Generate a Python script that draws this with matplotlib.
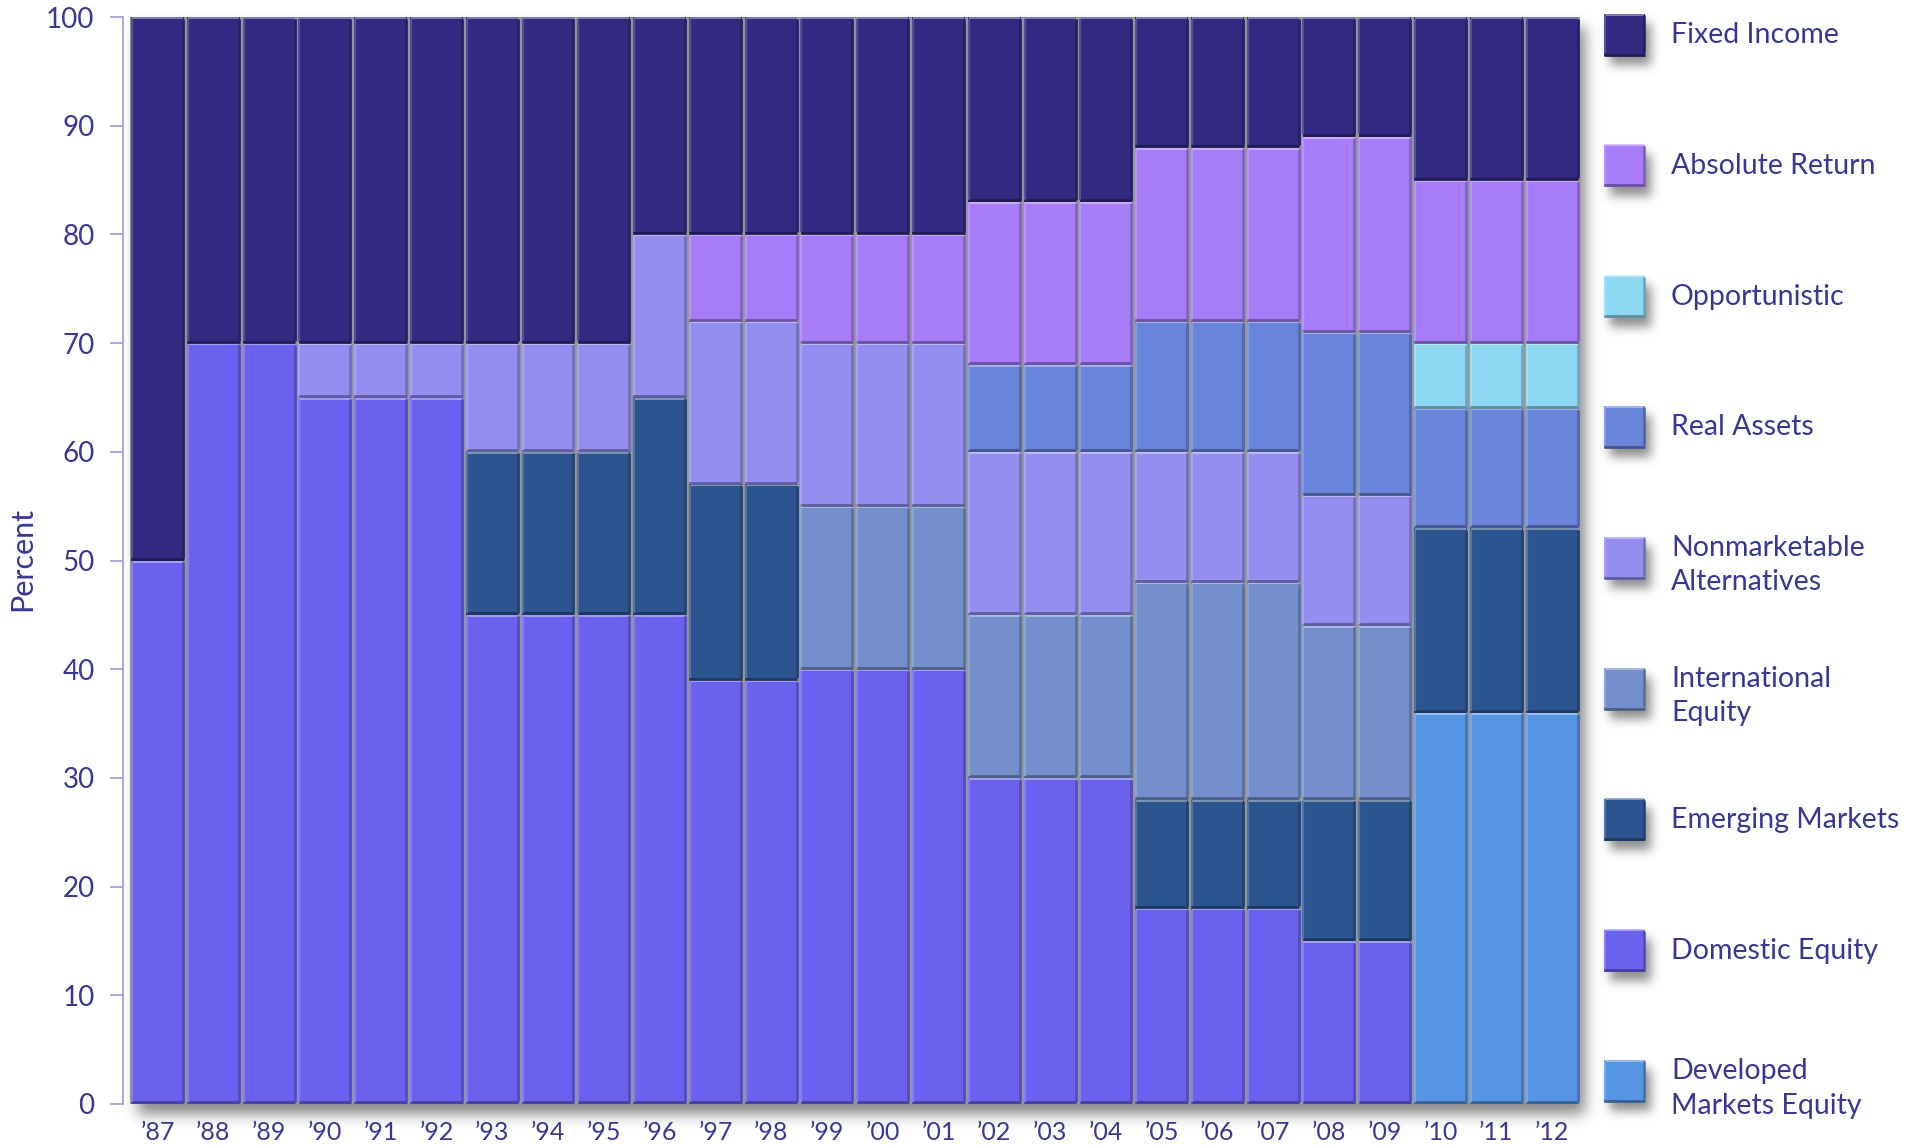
import numpy as np
import matplotlib.pyplot as plt
from matplotlib.patches import Rectangle
from matplotlib.colors import to_rgb

plt.rcParams['font.family'] = ['Lato', 'DejaVu Sans']

# Asset allocation, percent of portfolio, fiscal 1987-2012
years = ["’87", "’88", "’89", "’90", "’91", "’92", "’93", "’94", "’95", "’96",
         "’97", "’98", "’99", "’00", "’01", "’02", "’03", "’04", "’05", "’06",
         "’07", "’08", "’09", "’10", "’11", "’12"]

developed = [0, 0, 0, 0, 0, 0, 0, 0, 0, 0, 0, 0, 0, 0, 0, 0, 0, 0, 0, 0, 0, 0, 0, 36, 36, 36]
domestic = [50, 70, 70, 65, 65, 65, 45, 45, 45, 45, 39, 39, 40, 40, 40, 30, 30, 30, 18, 18, 18, 15, 15, 0, 0, 0]
emerging = [0, 0, 0, 0, 0, 0, 15, 15, 15, 20, 18, 18, 0, 0, 0, 0, 0, 0, 10, 10, 10, 13, 13, 17, 17, 17]
international = [0, 0, 0, 0, 0, 0, 0, 0, 0, 0, 0, 0, 15, 15, 15, 15, 15, 15, 20, 20, 20, 16, 16, 0, 0, 0]
nonmarketable = [0, 0, 0, 5, 5, 5, 10, 10, 10, 15, 15, 15, 15, 15, 15, 15, 15, 15, 12, 12, 12, 12, 12, 0, 0, 0]
real_assets = [0, 0, 0, 0, 0, 0, 0, 0, 0, 0, 0, 0, 0, 0, 0, 8, 8, 8, 12, 12, 12, 15, 15, 11, 11, 11]
opportunistic = [0, 0, 0, 0, 0, 0, 0, 0, 0, 0, 0, 0, 0, 0, 0, 0, 0, 0, 0, 0, 0, 0, 0, 6, 6, 6]
absolute_return = [0, 0, 0, 0, 0, 0, 0, 0, 0, 0, 8, 8, 10, 10, 10, 15, 15, 15, 16, 16, 16, 18, 18, 15, 15, 15]
fixed_income = [50, 30, 30, 30, 30, 30, 30, 30, 30, 20, 20, 20, 20, 20, 20, 17, 17, 17, 12, 12, 12, 11, 11, 15, 15, 15]

# stacked bottom to top
series = [
    ("Developed\nMarkets Equity", developed, "#5595e4"),
    ("Domestic Equity", domestic, "#6a62ee"),
    ("Emerging Markets", emerging, "#2c5590"),
    ("International\nEquity", international, "#7490cc"),
    ("Nonmarketable\nAlternatives", nonmarketable, "#948ef0"),
    ("Real Assets", real_assets, "#6885db"),
    ("Opportunistic", opportunistic, "#8fd8f3"),
    ("Absolute Return", absolute_return, "#a67cf9"),
    ("Fixed Income", fixed_income, "#312a80"),
]

TEXT = "#383894"
AXIS = "#9c9cd6"


def shade(color, f):
    c = np.array(to_rgb(color))
    if f > 0:
        return tuple(c + (1 - c) * f)
    return tuple(c * (1 + f))


def soft_shadow(w, h, pad, sigma, amax):
    """RGBA image of a gaussian-blurred gray box, w x h px plus padding."""
    a = np.zeros((h + 2 * pad, w + 2 * pad))
    a[pad:pad + h, pad:pad + w] = 1.0
    t = np.arange(-3 * sigma, 3 * sigma + 1)
    k = np.exp(-0.5 * (t / sigma) ** 2)
    k /= k.sum()
    a = np.apply_along_axis(lambda r: np.convolve(r, k, mode="same"), 1, a)
    a = np.apply_along_axis(lambda c: np.convolve(c, k, mode="same"), 0, a)
    img = np.zeros(a.shape + (4,))
    img[..., :3] = 0.33
    img[..., 3] = amax * a
    return img


W, H = 1915, 1146
fig = plt.figure(figsize=(W / 100, H / 100), dpi=100)
ax_px = (123, 17, 1580, 1104)  # left, top, right, bottom in pixels
ax = fig.add_axes([ax_px[0] / W, 1 - ax_px[3] / H,
                   (ax_px[2] - ax_px[0]) / W, (ax_px[3] - ax_px[1]) / H])

x = np.arange(len(years))
width = 0.94
x0, x1 = -0.62, 25.5
sx = (ax_px[2] - ax_px[0]) / (x1 - x0)   # px per category
sy = (ax_px[3] - ax_px[1]) / 100.0        # px per percent

# gray channel behind the columns
ax.bar(x, 100, width=1.0, color="#979797", linewidth=0, zorder=1)

# blurred drop shadow of the whole block of columns
left_edge, right_edge = x[0] - width / 2, x[-1] + width / 2
bw = int(round((right_edge - left_edge) * sx))
bh = int(round(100 * sy))
pad, dx, dy = 30, 7, 10
shadow = soft_shadow(bw, bh, pad, 7, 0.7)
ax.imshow(shadow, aspect="auto", zorder=0, clip_on=False, interpolation="bilinear",
          extent=(left_edge + (dx - pad) / sx, right_edge + (dx + pad) / sx,
                  (-dy - pad) / sy, 100 + (pad - dy) / sy))

bottom = np.zeros(len(years))
for label, vals, color in series:
    v = np.array(vals, dtype=float)
    m = v > 0
    ax.bar(x[m], v[m], bottom=bottom[m], width=width, color=color,
           linewidth=0, zorder=2)
    left = x[m] - width / 2
    right = x[m] + width / 2
    top = bottom[m] + v[m]
    # bevelled edges
    ax.hlines(bottom[m] + 0.14, left, right, color=shade(color, -0.35), lw=2.0, zorder=3)
    ax.hlines(top - 0.1, left + 0.01, right - 0.01, color=shade(color, 0.45), lw=1.2, zorder=3)
    ax.vlines(left + 0.012, bottom[m] + 0.2, top - 0.15, color=shade(color, 0.18), lw=1.6, zorder=3)
    ax.vlines(right - 0.014, bottom[m] + 0.2, top - 0.15, color=shade(color, -0.22), lw=2.0, zorder=3)
    bottom = bottom + v

ax.set_xlim(x0, x1)
ax.set_ylim(0, 100)
ax.set_xticks(x)
ax.set_xticklabels(years, fontsize=18, color=TEXT)
ax.set_yticks(np.arange(0, 101, 10))
ax.tick_params(axis="x", length=0, pad=12)
ax.tick_params(axis="y", length=9.5, width=1.2, color=AXIS, labelcolor=TEXT,
               labelsize=20, pad=11)
for s in ("top", "right", "bottom"):
    ax.spines[s].set_visible(False)
ax.spines["left"].set_color(AXIS)
ax.spines["left"].set_linewidth(1.2)
ax.patch.set_visible(False)

fig.text(22 / W, 1 - 559 / H, "Percent", rotation=90, fontsize=22, color=TEXT,
         ha="center", va="center")

# legend, top entry first
lax = fig.add_axes([0, 0, 1, 1])
lax.set_xlim(0, W)
lax.set_ylim(H, 0)
lax.axis("off")
lax.patch.set_visible(False)
sq, spad = 42, 18
sq_shadow = soft_shadow(sq - 1, sq, spad, 5, 0.65)
for i, (label, vals, color) in enumerate(series[::-1]):
    cy = 35 + i * 130.8
    sx0, sy0 = 1604, cy - sq / 2
    lax.imshow(sq_shadow, aspect="auto", interpolation="bilinear", zorder=0,
               extent=(sx0 + 6 - spad, sx0 + 6 + sq - 1 + spad,
                       sy0 + 9 + sq + spad, sy0 + 9 - spad))
    lax.add_patch(Rectangle((sx0, sy0), sq - 1, sq, color=color, lw=0, zorder=1))
    lax.hlines(sy0 + sq - 1.5, sx0, sx0 + sq - 1, color=shade(color, -0.35), lw=2.0, zorder=2)
    lax.hlines(sy0 + 0.5, sx0 + 1, sx0 + sq - 2, color=shade(color, 0.45), lw=1.2, zorder=2)
    lax.vlines(sx0 + 0.8, sy0 + 1, sy0 + sq - 3, color=shade(color, 0.2), lw=1.5, zorder=2)
    lax.vlines(sx0 + sq - 1.8, sy0 + 1, sy0 + sq - 3, color=shade(color, -0.25), lw=1.8, zorder=2)
    ty = cy + (7 if "\n" in label else 0)
    lax.text(1671, ty, label, fontsize=20.5, color=TEXT, ha="left", va="center",
             linespacing=1.4, zorder=3)
lax.set_xlim(0, W)
lax.set_ylim(H, 0)

fig.savefig("out.png", dpi=100)
